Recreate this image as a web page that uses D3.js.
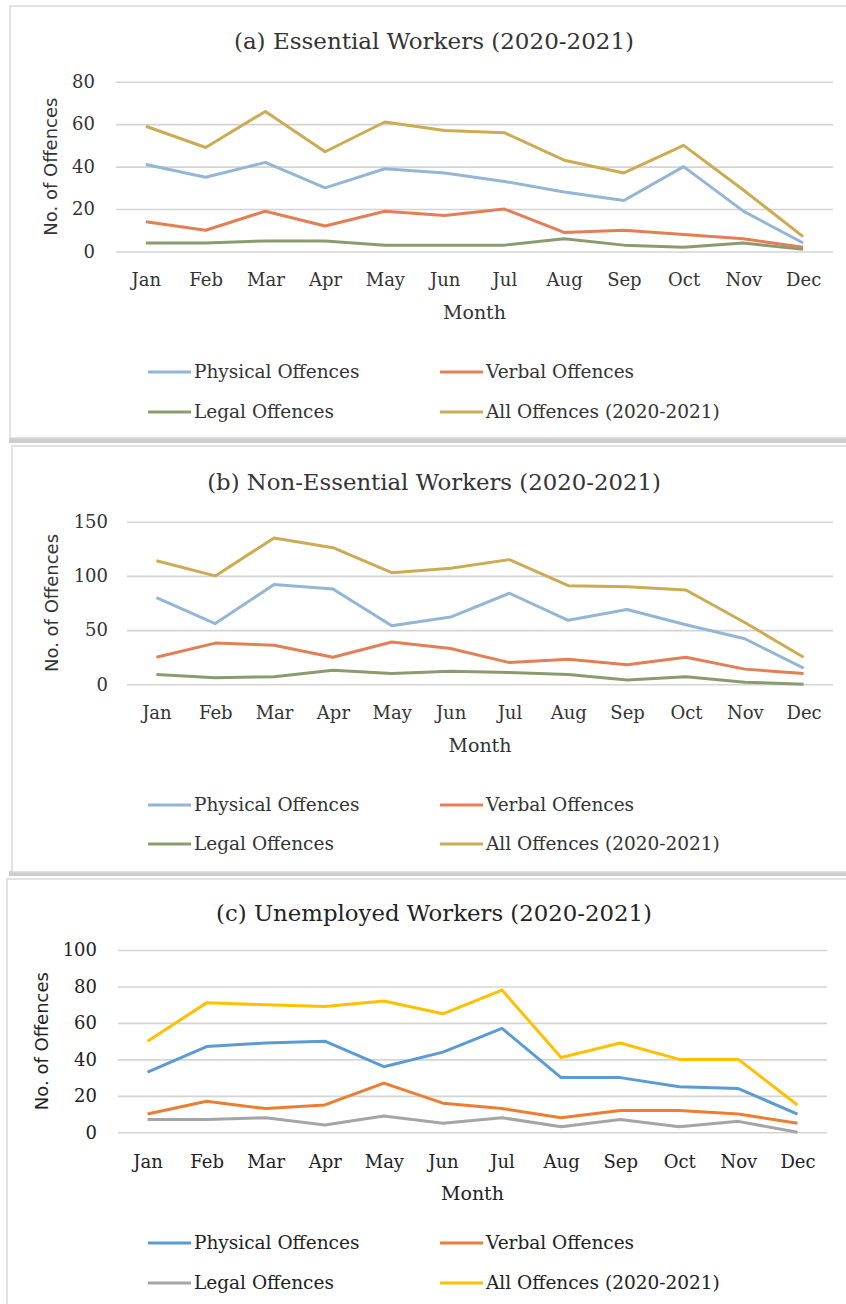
<!DOCTYPE html>
<html>
<head>
<meta charset="utf-8">
<script src="https://cdnjs.cloudflare.com/ajax/libs/d3/7.8.5/d3.min.js"></script>
<style>
  body { margin: 0; background: #fff; }
  svg { display: block; }
</style>
</head>
<body>
<svg id="chart" width="846" height="1304"></svg>
<script>
const months = ['Jan','Feb','Mar','Apr','May','Jun','Jul','Aug','Sep','Oct','Nov','Dec'];
const seriesNames = ['Physical Offences','Verbal Offences','Legal Offences','All Offences (2020-2021)'];

// (a) essential workers
const essentialPhysical = [41,35,42,30,39,37,33,28,24,40,19,4];
const essentialVerbal   = [14,10,19,12,19,17,20,9,10,8,6,2];
const essentialLegal    = [4,4,5,5,3,3,3,6,3,2,4,1];
const essentialAll      = [59,49,66,47,61,57,56,43,37,50,29,7];
const essentialTicks    = [0,20,40,60,80];

// (b) non-essential workers
const nonEssentialPhysical = [80,56,92,88,54,62,84,59,69,55,42,15];
const nonEssentialVerbal   = [25,38,36,25,39,33,20,23,18,25,14,10];
const nonEssentialLegal    = [9,6,7,13,10,12,11,9,4,7,2,0];
const nonEssentialAll      = [114,100,135,126,103,107,115,91,90,87,57,25];
const nonEssentialTicks    = [0,50,100,150];

// (c) unemployed workers
const unemployedPhysical = [33,47,49,50,36,44,57,30,30,25,24,10];
const unemployedVerbal   = [10,17,13,15,27,16,13,8,12,12,10,5];
const unemployedLegal    = [7,7,8,4,9,5,8,3,7,3,6,0];
const unemployedAll      = [50,71,70,69,72,65,78,41,49,40,40,15];
const unemployedTicks    = [0,20,40,60,80,100];

const serif = '"DejaVu Serif", "Liberation Serif", serif';
const sans = '"DejaVu Sans", Verdana, sans-serif';

const mutedColours = ['#93b6d6','#e47f55','#8a9c6d','#cdab52'];
const brightColours = ['#5b9bd5','#ed7d31','#a5a5a5','#ffc000'];

const panels = [
  {
    title: '(a) Essential Workers (2020-2021)',
    series: [essentialPhysical, essentialVerbal, essentialLegal, essentialAll],
    ticks: essentialTicks,
    colours: mutedColours, text: '#333', titleSize: 23,
    box: {x:10, y:6, w:850, h:432},
    plot: {left:116, right:833, top:81.7, bottom:251.5},
    tickRight: 95, yTitleX: 51, titleY: 41, monthY: 280, monthTitleY: 312,
    legendRows: [372, 412]
  },
  {
    title: '(b) Non-Essential Workers (2020-2021)',
    series: [nonEssentialPhysical, nonEssentialVerbal, nonEssentialLegal, nonEssentialAll],
    ticks: nonEssentialTicks,
    colours: mutedColours, text: '#333', titleSize: 22.8,
    box: {x:12, y:446, w:850, h:426},
    plot: {left:127, right:833, top:521.7, bottom:684.3},
    tickRight: 108, yTitleX: 52, titleY: 482, monthY: 713, monthTitleY: 745,
    legendRows: [805, 844]
  },
  {
    title: '(c) Unemployed Workers (2020-2021)',
    series: [unemployedPhysical, unemployedVerbal, unemployedLegal, unemployedAll],
    ticks: unemployedTicks,
    colours: brightColours, text: '#222', titleSize: 22.8,
    box: {x:7, y:879, w:850, h:440},
    plot: {left:118, right:827, top:950, bottom:1132.3},
    tickRight: 97, yTitleX: 42, titleY: 913, monthY: 1162, monthTitleY: 1193,
    legendRows: [1243, 1283]
  }
];

const svg = d3.select('#chart');

// grey separators between the stacked figures
svg.selectAll('rect.sep')
  .data([438, 871])
  .enter()
  .append('rect')
    .attr('class','sep')
    .attr('x', 9).attr('y', d=>d)
    .attr('width', 846).attr('height', 5)
    .attr('fill', '#cdcdcd');

function drawPanel(p){
  const g = svg.append('g').attr('class','panel');

  g.append('rect')
    .attr('x', p.box.x).attr('y', p.box.y)
    .attr('width', p.box.w).attr('height', p.box.h)
    .attr('fill', '#fff')
    .attr('stroke', '#d9d9d9')
    .attr('stroke-width', 1.5);

  const x = d3.scalePoint()
    .domain(months)
    .range([p.plot.left, p.plot.right])
    .padding(0.5);

  const y = d3.scaleLinear()
    .domain([0, d3.max(p.ticks)])
    .range([p.plot.bottom, p.plot.top]);

  // gridlines + y labels
  const yAxis = g.append('g')
    .attr('transform', `translate(${p.plot.left},0)`)
    .call(d3.axisLeft(y)
      .tickValues(p.ticks)
      .tickSize(-(p.plot.right - p.plot.left))
      .tickPadding(p.plot.left - p.tickRight));
  yAxis.select('.domain').remove();
  yAxis.selectAll('line').attr('stroke', '#d4d4d4').attr('stroke-width', 1.6);
  yAxis.selectAll('text')
    .attr('fill', p.text)
    .style('font-family', serif)
    .style('font-size', '18px');

  // month labels
  const xAxis = g.append('g')
    .attr('transform', `translate(0,${p.monthY})`)
    .call(d3.axisBottom(x).tickSize(0).tickPadding(0));
  xAxis.select('.domain').remove();
  xAxis.selectAll('text')
    .attr('dy', '0.35em')
    .attr('fill', p.text)
    .style('font-family', serif)
    .style('font-size', '18px');

  g.append('text')
    .attr('x', (p.plot.left + p.plot.right)/2)
    .attr('y', p.monthTitleY)
    .attr('dy', '0.35em')
    .attr('text-anchor', 'middle')
    .attr('fill', p.text)
    .style('font-family', serif)
    .style('font-size', '19px')
    .text('Month');

  g.append('text')
    .attr('transform', `translate(${p.yTitleX},${(p.plot.top + p.plot.bottom)/2}) rotate(-90)`)
    .attr('dy', '0.35em')
    .attr('text-anchor', 'middle')
    .attr('fill', p.text)
    .style('font-family', sans)
    .style('font-size', '18px')
    .text('No. of Offences');

  g.append('text')
    .attr('x', 434)
    .attr('y', p.titleY)
    .attr('dy', '0.35em')
    .attr('text-anchor', 'middle')
    .attr('fill', p.text)
    .style('font-family', serif)
    .style('font-size', p.titleSize + 'px')
    .text(p.title);

  const line = d3.line()
    .x((d,i)=>x(months[i]))
    .y(d=>y(d));

  g.selectAll('path.series')
    .data(p.series)
    .enter()
    .append('path')
      .attr('class','series')
      .attr('d', line)
      .attr('fill', 'none')
      .attr('stroke', (d,i)=>p.colours[i])
      .attr('stroke-width', 3)
      .attr('stroke-linejoin', 'round');

  // legend, two columns
  const legend = g.selectAll('g.legend-item')
    .data(seriesNames)
    .enter()
    .append('g')
      .attr('class','legend-item')
      .attr('transform', (d,i)=>`translate(${i%2 ? 440 : 148},${p.legendRows[Math.floor(i/2)]})`);

  legend.append('line')
    .attr('x1', 0).attr('x2', 43)
    .attr('y1', 0).attr('y2', 0)
    .attr('stroke', (d,i)=>p.colours[i])
    .attr('stroke-width', 3);

  legend.append('text')
    .attr('x', 46)
    .attr('dy', '0.35em')
    .attr('fill', p.text)
    .style('font-family', serif)
    .style('font-size', '18.5px')
    .text(d=>d);
}

panels.forEach(drawPanel);
</script>
</body>
</html>
